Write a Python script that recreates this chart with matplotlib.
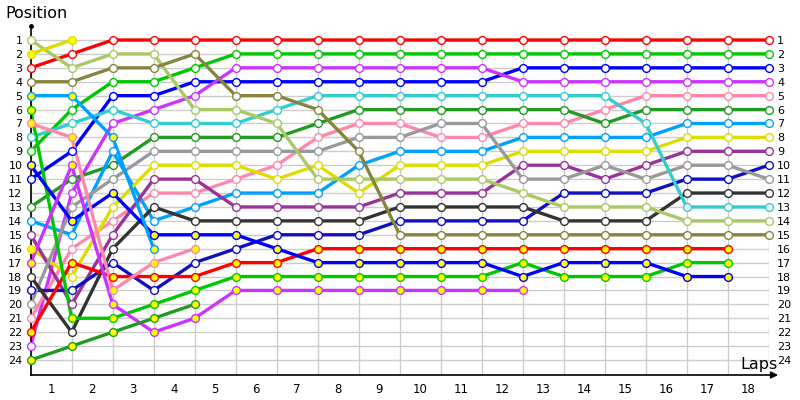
import matplotlib
matplotlib.use("Agg")
import matplotlib.pyplot as plt

# positions per lap column (column 0 = start), one list per driver
red_pos      = [3, 2] + [1] * 17
green_pos    = [9, 6, 4, 4, 3] + [2] * 14
blue_pos     = [11, 9, 5, 5, 4, 4, 4, 4, 4, 4, 4, 4, 3, 3, 3, 3, 3, 3, 3]
magenta_pos  = [23, 12, 7, 6, 5, 3, 3, 3, 3, 3, 3, 3, 4, 4, 4, 4, 4, 4, 4]
pink_pos     = [21, 16, 14, 12, 12, 11, 10, 8, 7, 7, 8, 8, 7, 7, 6, 5, 5, 5, 5]
dkgreen_pos  = [13, 11, 10, 8, 8, 8, 8, 7, 6, 6, 6, 6, 6, 6, 7, 6, 6, 6, 6]
ltblue_pos   = [14, 15, 9, 14, 13, 12, 12, 12, 10, 9, 9, 9, 8, 8, 8, 8, 7, 7, 7]
yellow_pos   = [16, 18, 13, 10, 10, 10, 11, 10, 12, 10, 10, 10, 9, 9, 9, 9, 8, 8, 8]
dkpurple_pos = [15, 20, 15, 11, 11, 13, 13, 13, 13, 12, 12, 12, 10, 10, 11, 10, 9, 9, 9]
navy_pos     = [19, 19, 17, 19, 17, 16, 15, 15, 15, 14, 14, 14, 14, 12, 12, 12, 11, 11, 10]
gray_pos     = [20, 13, 11, 9, 9, 9, 9, 9, 8, 8, 7, 7, 11, 11, 10, 11, 10, 10, 11]
dkgray_pos   = [18, 22, 16, 13, 14, 14, 14, 14, 14, 13, 13, 13, 13, 14, 14, 14, 12, 12, 12]
cyan_pos     = [8, 7, 6, 7, 7, 7, 6, 5, 5, 5, 5, 5, 5, 5, 5, 7, 13, 13, 13]
ltgreen_pos  = [1, 3, 2, 2, 6, 6, 7, 11, 11, 11, 11, 11, 12, 13, 13, 13, 14, 14, 14]
olive_pos    = [4, 4, 3, 3, 2, 5, 5, 6, 9] + [15] * 10
red2_pos     = [22, 17, 18, 18, 18, 17, 17] + [16] * 11
green2_pos   = [6, 21, 21, 20, 19, 18, 18, 18, 18, 18, 18, 18, 17, 18, 18, 18, 17, 17]
blue2_pos    = [10, 14, 12, 15, 15, 15, 16, 17, 17, 17, 17, 17, 18, 17, 17, 17, 18, 18]
magenta2_pos = [17, 10, 20, 22, 21, 19, 19, 19, 19, 19, 19, 19, 19]
yellow2_pos  = [2, 1]
ltblue2_pos  = [5, 5, 8, 16]
pink2_pos    = [7, 8, 19, 17, 16]
dkgreen2_pos = [24, 23, 22, 21, 20]

series = [
    (red_pos, "#ff0000", "white"),
    (green_pos, "#00c800", "white"),
    (blue_pos, "#0000ff", "white"),
    (magenta_pos, "#cc33ff", "white"),
    (pink_pos, "#ff88aa", "white"),
    (dkgreen_pos, "#229922", "white"),
    (ltblue_pos, "#00a0ff", "white"),
    (yellow_pos, "#dddd00", "white"),
    (dkpurple_pos, "#993399", "white"),
    (navy_pos, "#1010c0", "white"),
    (gray_pos, "#999999", "white"),
    (dkgray_pos, "#333333", "white"),
    (cyan_pos, "#33cccc", "white"),
    (ltgreen_pos, "#aac864", "white"),
    (olive_pos, "#858540", "white"),
    (red2_pos, "#ff0000", "#ffff00"),
    (green2_pos, "#00c800", "#ffff00"),
    (blue2_pos, "#0000ff", "#ffff00"),
    (magenta2_pos, "#cc33ff", "#ffff00"),
    (yellow2_pos, "#dddd00", "#ffff00"),
    (ltblue2_pos, "#00a0ff", "#ffff00"),
    (pink2_pos, "#ff88aa", "#ffff00"),
    (dkgreen2_pos, "#229922", "#ffff00"),
]
# start-column markers with yellow fill for otherwise white-marker drivers
start_yellow = {"yellow": 16}

lap_labels = [str(i) for i in range(1, 19)]
pos_labels = [str(i) for i in range(1, 25)]

W, H = 800, 400
fig = plt.figure(figsize=(8, 4), dpi=100)
x0, x1 = 30.7, 768.7
ytop_px, ybot_px = 26.1, 375.0
ax = fig.add_axes([x0 / W, (H - ybot_px) / H, (x1 - x0) / W, (ybot_px - ytop_px) / H])
ymax = 1 + (ybot_px - 40) / 13.913
ax.set_xlim(0, 18)
ax.set_ylim(ymax, 0)

n_cols = 19
# grid
ax.vlines(range(n_cols), 1, ymax, color="#cccccc", lw=1, zorder=0)
ax.hlines(range(1, 25), 0, 18, color="#cccccc", lw=1, zorder=0)

for i, (pos, col, fill) in enumerate(series):
    xs = list(range(len(pos)))
    ax.plot(xs, pos, color=col, lw=2.4, zorder=2 + i * 0.01, solid_capstyle="butt")
    fills = [fill] * len(pos)
    if col == "#dddd00" and fill == "white":
        fills[0] = "#ffff00"
    for x, p, fc in zip(xs, pos, fills):
        ax.plot([x], [p], marker="o", ms=5.6, mfc=fc, mec=col, mew=1.0,
                zorder=3 + i * 0.01, clip_on=False)

# axes
for s in ["top", "right", "bottom"]:
    ax.spines[s].set_visible(False)
ax.spines["left"].set_color("black")
ax.spines["left"].set_linewidth(1.2)
ax.annotate("", xy=(18.23, ymax), xytext=(0, ymax),
            arrowprops=dict(arrowstyle="-|>", color="black", lw=1.2,
                            mutation_scale=10, shrinkA=0, shrinkB=0),
            annotation_clip=False)
ax.plot([0], [0], marker="o", ms=2.5, color="black", clip_on=False)

ax.set_yticks(range(1, 25))
ax.set_yticklabels(pos_labels)
ax.tick_params(axis="y", length=0, labelsize=8, pad=8, labelright=True, right=False)
for lbl in ax.get_yticklabels(which="both"):
    lbl.set_fontfamily("DejaVu Sans")
ax.set_xticks([i + 0.5 for i in range(18)])
ax.set_xticklabels(lap_labels)
ax.tick_params(axis="x", length=0, labelsize=8.5, pad=6)
for lbl in ax.get_yticklabels():
    lbl.set_horizontalalignment("right")
ax.yaxis.set_tick_params(which="both", labelleft=True)
for t in ax.yaxis.get_major_ticks():
    t.label2.set_horizontalalignment("left")
    t.label2.set_x(1.0)
ax.tick_params(axis="y", pad=6)

fig.text(5 / W, 1 - 14 / H, "Position", fontsize=11.5, ha="left", va="center")
fig.text(778 / W, 1 - 365 / H, "Laps", fontsize=11.5, ha="right", va="center")

fig.savefig("out.png", dpi=100)
